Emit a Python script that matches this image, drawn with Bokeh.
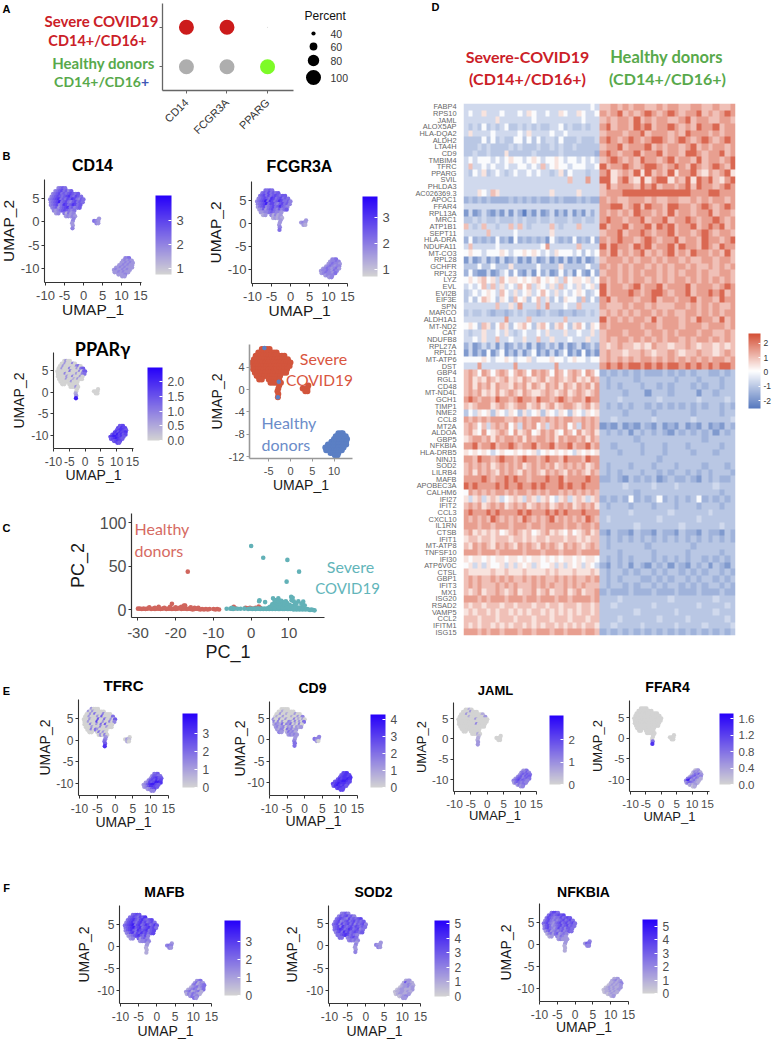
from itertools import cycle
import numpy as np
from bokeh.embed import file_html
from bokeh.resources import INLINE
from bokeh.plotting import figure
from bokeh.models import Range1d, FixedTicker, ColorBar, LinearColorMapper, ColumnDataSource, AllLabels
from bokeh.core.properties import value

# ------------------------------------------------------------------ panel A
dot_genes = ["CD14", "FCGR3A", "PPARG"]
dot_groups = ["Severe", "Severe", "Severe", "Healthy", "Healthy", "Healthy"]
dot_gene_of = ["CD14", "FCGR3A", "PPARG", "CD14", "FCGR3A", "PPARG"]
dot_percent = [100, 100, 22, 100, 100, 100]
dot_colors = ["#cc1b1b", "#cc1b1b", "#bdbdbd", "#aeaeae", "#aeaeae", "#7dfb27"]
legend_percent = [40, 60, 80, 100]

# ------------------------------------------------------------------ UMAP cloud, one entry per row
umap_y = [7.2, 6.6, 6.0, 5.4, 4.8, 4.2, 3.6, 3.0, 2.4, 1.8, 1.2,
          0.7, 0.2, -0.3, -0.8, -1.4,
          0.7, 0.2, -0.3,
          -7.8, -8.3, -8.8, -9.3, -9.8, -10.3, -10.8, -11.3, -11.7]
umap_x = [
    [-6.6, -6.0, -5.4, -4.8],
    [-7.4, -6.8, -6.2, -5.6, -5.0, -4.4, -3.8, -3.2],
    [-8.0, -7.4, -6.8, -6.2, -5.6, -5.0, -4.4, -3.8, -3.2, -2.6, -2.0, -1.4],
    [-8.4, -7.8, -7.2, -6.6, -6.0, -5.4, -4.8, -4.2, -3.6, -3.0, -2.4, -1.8, -1.2, -0.6],
    [-8.8, -8.2, -7.6, -7.0, -6.4, -5.8, -5.2, -4.6, -4.0, -3.4, -2.8, -2.2, -1.6, -1.0, -0.4, 0.0],
    [-8.6, -8.0, -7.4, -6.8, -6.2, -5.6, -5.0, -4.4, -3.8, -3.2, -2.6, -2.0, -1.4, -0.8, -0.2],
    [-8.6, -8.0, -7.4, -6.8, -6.2, -5.6, -5.0, -4.4, -3.8, -3.2, -2.6, -2.0, -1.4, -0.8],
    [-8.2, -7.6, -7.0, -6.4, -5.8, -5.2, -4.6, -4.0, -3.4, -2.8, -2.2, -1.6, -1.0],
    [-7.8, -7.2, -6.6, -6.0, -5.4, -4.8, -4.2, -3.6, -3.0, -2.4],
    [-7.2, -6.6, -5.0, -4.4, -3.8, -3.2, -2.6],
    [-4.6, -4.0, -3.4, -2.8, -2.2],
    [-2.6], [-2.8], [-3.0], [-2.8], [-2.9],
    [4.1], [2.8, 3.4, 3.9], [3.4, 3.9],
    [11.0, 11.6, 12.0],
    [10.4, 11.0, 11.6, 12.2, 12.7],
    [10.0, 10.6, 11.2, 11.8, 12.4, 13.0],
    [9.4, 10.0, 10.6, 11.2, 11.8, 12.4, 12.8],
    [8.6, 9.2, 9.8, 10.4, 11.0, 11.6, 12.2, 12.8],
    [8.0, 8.6, 9.2, 9.8, 10.4, 11.0, 11.6, 12.2],
    [8.2, 8.8, 9.4, 10.0, 10.6, 11.2, 11.8],
    [9.2, 9.8, 10.4, 11.0],
    [10.2, 10.8],
]
severe_row_count = 19
donor_strays_x = [-6.0, -2.7, -2.9]
donor_strays_y = [7.4, 1.4, -1.4]

# expression level 0-9 per cloud row
expr_cd14 = """4565 45675646 456756567656 45676567865765 4567856576875465 456795675467565 45674587568756 4563567856456 4345676545 3452534 34343
4 4 3 3 4  3 543 43  445 34343 334343 3343433 33434333 34334343 3343433 3334 33"""
expr_fcgr3a = """5565 56575656 567575676566 45676587567565 4567958756875564 456795775467564 35674567568654 3463567546456 3344565443 2342423 23232
3 3 3 4 5  3 343 32  445 34454 345443 3454344 34543453 34454354 3454435 3444 34"""
expr_pparg = """0300 00300040 003000000450 00300040003056 0000000500004056 000040000030045 00000300400030 0000300020300 0000003000 0000000 00030
0 0 2 3 9  0 000 00  667 76877 678876 7868778 68797867 78998786 6789876 6787 76"""
expr_tfrc = """3000 30300000 003050004000 00300030600005 0003000600500306 003000700300404 00040030506000 0003000400300 0040530000 0005030 03040
3 4 5 6 8  0 031 20  556 46655 367866 4676867 34767998 34689976 3468876 3467 44"""
expr_cd9 = """0000 00200000 003002000300 02003000200304 3004003000402030 404030043040305 24325043502040 3423403240323 3244053423 4325342 34343
3 3 4 5 5  4 544 30  778 67887 678878 6878898 67889987 77898887 6898786 7887 77"""
expr_jaml = """0020 00003000 000300000002 00000200000003 0000000003000000 000000000000000 00000000040000 0000000000000 0000000000 0000000 00020
1 2 2 3 3  0 000 00  335 45464 356565 4564656 35664565 45675654 3565454 3545 34"""
expr_ffar4 = """0000 00000000 000000000000 00000000000000 0000000000000000 000000000000000 00000000000000 0000000000000 0000000000 0000000 00000
0 0 0 5 8  0 000 00  123 24342 135463 2456434 45653542 48934532 3565432 2323 12"""
expr_mafb = """5676 56765768 567865786567 46786578675675 5678957856875686 567896785678675 46786587678567 4578576867567 3456786574 3463564 34454
3 3 2 2 2  3 454 43  345 35243 452345 2345345 23454235 34523452 2435432 3534 53"""
expr_sod2 = """4564 46567564 567654756567 56745675675656 5674756757465674 567486567576565 56787568756745 4675867567656 5567875654 5545675 45454
3 4 3 3 4  3 433 43  233 26332 233432 1233423 12332223 12233232 1233223 1234 33"""
expr_nfkbia = """5775 57656767 576545575676 46754545675675 5675435675675675 467534567567565 46754357564665 3563454564565 2453563454 2343543 34333
3 3 2 2 2  4 365 44  223 23423 223234 1232323 12323223 12232323 1223232 1232 23"""

# ------------------------------------------------------------------ panel C
pc_healthy_x = [-30, -29.5, -29, -28.5, -28, -27.5, -27, -26.5, -26, -25.5, -25, -24.5, -24, -23.5, -23, -22.5, -22, -21.5,
                -21, -20.5, -20, -19.5, -19, -18.5, -18, -17.5, -17, -16.5, -16, -15.5, -15, -14.5, -14, -13.5, -13, -12.5,
                -12, -11.5, -11, -10, -9.5, -9, -8.5, -27, -24.5, -23, -21.5, -20, -18.5, -17.5, -16, -14, -21, -17.8, -16.8,
                -5, -4.6, -4.2, -1.5, -1, -0.3, 0.4, 1.2, 2, 2.4, -25.5, -19, -15]
pc_healthy_y = [1, 1, 0.5, 1, 0.5, 1, 1.5, 0.5, 1, 0.5, 1, 1, 0.5, 1, 1.5, 0.5, 1, 1,
                0.5, 1, 0.5, 1, 1.5, 0.5, 1, 1, 0.5, 1, 0.5, 0, 0.5, 1, 0.5, 0, 0.5, 0,
                0.5, 0, 0.5, 0.5, 0, 0.5, 0, 2.5, 3, 2, 3, 2.5, 3, 4.5, 2.5, 2, 6.5, 4.5, 43.5,
                1, 3, 1.5, 2, 1.5, 2, 1, 2, 3.5, 2, 2, 2, 2]
pc_severe_x = [0, 3.2, 9.6, 12.7, 9.4, 2.2, 2.1, 3.7, 5.8, 6.2, 7.2, 10.6, 11, 12.5, 6.6, 6.9, 7.4, 8, 8.6, 9.2, 8.4,
               -6.5, -5.5, -5.1, -4.8, -4.4, -3.6, -2.8, -1.8, -0.8, -0.2, 0.3, 0.8, 1.2, 1.6, 2, 2.4, 2.8, 3.2, 3.6, 4, 4.4,
               4.8, 5.2, 5.6, 6, 6.4, 6.8, 7.2, 7.6, 8, 8.4, 8.8, 9.2, 9.6, 10, 10.4, 10.8, 11.2, 11.6, 12, 12.4, 12.8,
               13.2, 13.6, 14, 14.4, 14.8, 15.2, 15.6, 16, 16.4, 16.8,
               4.6, 5, 5.4, 5.8, 6.2, 6.6, 7, 7.4, 7.8, 8.2, 8.6, 9, 9.4, 9.8, 10.2, 10.6, 11, 11.4, 11.8, 12.2, 12.6, 13, 13.4, 13.8, 14.2,
               5.6, 6, 6.4, 6.8, 7.2, 7.6, 8, 8.4, 8.8, 9.2, 9.6, 10, 10.4, 10.8, 11.2, 11.6, 12,
               6.2, 6.6, 7, 7.4, 7.8, 8.2, 8.6, 9, 9.4, 9.8, 10.2,
               5.2, 5.7, 6.3, 6.8, 7.3, 7.8, 8.3, 8.8, 9.3, 9.8, 10.3, 10.8, 11.3, 11.8, 12.3, 12.8, 13.3, 13.8,
               5.9, 6.5, 7.1, 7.7, 8.3, 8.9, 9.5, 10.1, 10.7, 11.3, 6.4, 7.2, 8, 8.8, 9.6, 10.4]
pc_severe_y = [73, 59.5, 57, 43.5, 32, 10.5, 9.5, 8.5, 13, 11, 13, 14.5, 13.5, 9.5, 9, 7, 8, 9.5, 8, 9.5, 7,
               0.8, 1, 2, 0.5, 1.2, 0.8, 0.8, 1, 0.5, 1, 0.5, 1, 0.5, 1, 1, 0.5, 1, 0.5, 1, 0.5, 1,
               0.5, 1, 0.5, 1, 0.5, 1, 0.5, 0.5, 1, 0.5, 0.5, 1, 0.5, 0.5, 0.5, 1, 0, 0.5, 0, 0.5, 0,
               0.5, 0, 0.5, 0, 0.5, 0, -0.5, 0, -0.5, -1,
               2, 3, 2.5, 3, 3.5, 2.5, 3.5, 3, 4, 2.5, 3.5, 3, 2.5, 3, 2, 3, 2.5, 2, 2.5, 1.5, 2, 1.5, 1.5,
               5, 4.5, 6, 5, 6.5, 5.5, 5, 6, 5, 6.5, 5, 4.5, 5, 4, 4.5, 3.5, 4,
               7.5, 6.5, 8, 7, 7.5, 6.5, 8, 7, 6, 7, 5.5,
               1.5, 4, 2, 4.5, 2, 5, 2.5, 5.5, 2, 4.5, 2, 3.5, 1.5, 3, 1, 2.5, 1, 2,
               6.5, 9, 6, 8.5, 9.5, 6.5, 8.5, 6, 7.5, 5.5, 10.5, 9.5, 10.5, 9.5, 10, 8.5]

# ------------------------------------------------------------------ panel D
heat_levels = [-2.4, -1.9, -1.4, -1.0, -0.65, 0.0, 0.5, 1.0, 1.5, 2.3]
heat_genes = ["FABP4", "RPS10", "JAML", "ALOX5AP", "HLA-DQA2", "ALDH2", "LTA4H", "CD9", "TMBIM4", "TFRC", "PPARG", "SVIL",
              "PHLDA3", "AC026369.3", "APOC1", "FFAR4", "RPL13A", "MRC1", "ATP1B1", "SEPT11", "HLA-DRA", "NDUFA11", "MT-CO3",
              "RPL28", "GCHFR", "RPL23", "LYZ", "EVL", "EVI2B", "EIF3E", "SPN", "MARCO", "ALDH1A1", "MT-ND2", "CAT", "NDUFB8",
              "RPL27A", "RPL21", "MT-ATP6", "DST", "GBP4", "RGL1", "CD48", "MT-ND4L", "GCH1", "TIMP1", "NME2", "CCL8", "MT2A",
              "ALDOA", "GBP5", "NFKBIA", "HLA-DRB5", "NINJ1", "SOD2", "LILRB4", "MAFB", "APOBEC3A", "CALHM6", "IFI27", "IFIT2",
              "CCL3", "CXCL10", "IL1RN", "CTSB", "IFIT1", "MT-ATP8", "TNFSF10", "IFI30", "ATP6V0C", "CTSL", "GBP1", "IFIT3",
              "MX1", "ISG20", "RSAD2", "VAMP5", "CCL2", "IFITM1", "ISG15"]
heat_rows = """
444444444444444444444444444454|778787887787887788778778
454464445444546544544654465445|878978789878987889787898
444444464444444544444444445444|787887978788778978877887
434353434533434343344534334344|897887989788987879889788
464444544444546444454454444444|788878897888787988878788
333353534335535353443533343334|898789878998789878987898
333434333343433343343433433333|788978889787887897878878
334334333633333433333433333332|898788978897887998788978
454555454565545654556545545454|789878798878978879788789
474454544544554547456554555445|978898789987898798789879
435463454345445454434635444344|896787969787968897687896
444444444444444444444447444844|996897696899687969897689
444444444444444444444444444444|797888798978878979887898
444654764444444444464444464444|788899999999999988899888
232323222232323232232322232322|878778887877887787878878
444444444444444444444444444444|889978979887998878987898
141242131414203141241314131424|878787988787978878897887
334343343334343343343334334334|898878897889788987889878
743474434474743444474344474444|978897889798978897898978
444447444445444444464444444444|788978898788978878987887
252323252315232323153232523252|878988789878897887988789
474444454444444445844444474444|979887989788979887987988
565545556545565654546555453545|879787897878978798878797
141241314124131412413141314124|788878788787887877887887
333533533363333353333633333533|878787887878788787787878
252114124525214152412524152152|788787878878787887877887
565675647566565675656475665645|878787887878788787878787
454574746454757465464745464564|978878978897888978887898
345456547546456457546454565345|978889878998788978898978
353576536537563574635365537353|897888788978878897887988
444444474464844474844454474444|877787887877788787878778
343343233234343323433233233434|787878788787877887878788
444444444844447444444474444444|978787887978887879887978
565376357635675367536753675365|878888878878887888788878
434464454643454454644464454464|788878887887878887887787
445464474454464474464445444644|787887878787887878878787
241242414124241412424141241242|767877676877677876776767
141315135131413513141351315131|787767787677876778776787
555565455654556455565545655455|787878788787878787878878
444844444448444444448444444444|898989989898998989898998
787587578757875878758757875875|232323232223232323322323
786768767867687678678767867687|323333233333323332333233
786878687768786876878687687868|323233323323233323233233
787867686787687667876786787678|333323331333233331332333
898788798878988798878987887988|333433333343333334333343
767888678767886786786788767867|323232332323232323233232
354656365465364563654653654656|333323333233333323333233
878787888778787887878788778787|334333333433333343333334
787574787857487857478785748787|121312132131213121312132
786585678758678568786587586786|323231323232132323231323
678878687887868788786878878687|333333233333333333233333
889788978898788978897889788978|332333323332333233333233
656565456556565645656565465656|333233323332333323332333
887988789887898878988798887988|333333333323333333333333
787878678787867878786787878678|323332333233323333233323
786878768787687876878768787687|323233323323233232323332
888898788989887888988978888988|223213232312322321323223
989888898988988989888989889888|333343333433343333334333
587878788787887878788787878787|333333233333333333333233
646746764567647646754674676467|232325232352323235232323
787867878678786787867878678786|323332333233323332333233
898889898888989888989898889888|333334333333433333343333
878787987878798787897878787987|343333333343333334333333
888788788878887887888878878878|333333433333334333333433
786767675678767567867657567867|213221322132213221322132
677677677767767677677767767677|323232323232323232323232
768787687876878768787687876787|323333332333333323333333
888788878888878887888788878888|333233333233333233333233
656656566566565665656566565665|323232333232323233232323
564646556464656465564646564654|213231321323132132313213
766666766766676666767666766676|323323233232332323233232
787877878787787878778787877878|323233322323233232332323
787877787878777878787787878777|323323233232332323233232
767867787678677867867786786778|232223222322232223222322
888787888788878878887887888878|333433333333433333334333
767767776776777677677677767767|334333333433333334333343
676776767767676776767676767767|333333433333343333334333
777677767776777677767776777677|333433333343333433333343
767677676767767676776767676776|334333343333343333433334
888787887888788788878878887887|232323232323232323232323
""".split()

umap_x_ticks = [-10, -5, 0, 5, 10, 15]
umap_y_ticks = [-10, -5, 0, 5]

# ------------------------------------------------------------------ layout (page pixels)
SANS = "Liberation Sans"
SOFT = "Lato"
LOW_COL, HIGH_COL = (211, 211, 211), (38, 0, 250)
feature_palette = ["#%02x%02x%02x" % tuple(int(round(a + (b - a) * i / 255)) for a, b in zip(LOW_COL, HIGH_COL)) for i in range(256)]
heat_stops = [(0.0, (85, 120, 190)), (0.5, (255, 255, 255)), (1.0, (212, 78, 52))]
heat_palette = []
for i in range(256):
    t = i / 255
    (a, ca), (b, cb_) = (heat_stops[0], heat_stops[1]) if t < 0.5 else (heat_stops[1], heat_stops[2])
    heat_palette.append("#%02x%02x%02x" % tuple(int(round(u + (v - u) * (t - a) / (b - a))) for u, v in zip(ca, cb_)))

FEATURES = [
    dict(title="CD14", expr=expr_cd14, frame=(44, 141, 179, 282), xt=(45, 140), yt=(198, 268), cb=(155, 171, 195, 274),
         cv=[3, 2, 1], cvpx=(220, 268), tf=13, lf=15.5, tit=16, titc=165, xlab=312, ylab=8, titx=92),
    dict(title="FCGR3A", expr=expr_fcgr3a, frame=(251, 347, 181, 283), xt=(252, 347), yt=(200, 269), cb=(362, 377, 196, 276),
         cv=[3, 2, 1], cvpx=(217, 269), tf=13, lf=15.5, tit=16, titc=166, xlab=313, ylab=215, titx=299),
    dict(title="PPAR\u03b3", expr=expr_pparg, frame=(53, 133, 352, 448), xt=(53, 132), yt=(370, 435), cb=(147, 162, 367, 440),
         cv=[2.0, 1.5, 1.0, 0.5, 0.0], cvpx=(381, 440), tf=12, lf=14, tit=18, titc=348, xlab=476, ylab=19, titx=102, cfmt="%.1f", tfont=SOFT),
    dict(title="TFRC", expr=expr_tfrc, frame=(78, 168, 699, 795), xt=(79, 168), yt=(718, 783), cb=(182, 197, 713, 787),
         cv=[3, 2, 1, 0], cvpx=(733, 787), tf=12, lf=14, tit=15, titc=685, xlab=823, ylab=45, titx=123),
    dict(title="CD9", expr=expr_cd9, frame=(269, 357, 701, 795), xt=(269, 357), yt=(718, 782), cb=(370, 385, 714, 787),
         cv=[4, 3, 2, 1, 0], cvpx=(719, 787), tf=12, lf=14, tit=14, titc=687, xlab=822, ylab=240, titx=312),
    dict(title="JAML", expr=expr_jaml, frame=(453, 536, 702, 791), xt=(454, 536), yt=(718, 779), cb=(549, 563, 715, 784),
         cv=[2, 1, 0], cvpx=(739, 784), tf=11.5, lf=13, tit=13, titc=690, xlab=817, ylab=422, titx=495),
    dict(title="FFAR4", expr=expr_ffar4, frame=(629, 709, 700, 791), xt=(630, 707), yt=(717, 779), cb=(719, 733, 713, 784),
         cv=[1.6, 1.2, 0.8, 0.4, 0.0], cvpx=(718, 784), tf=11.5, lf=13, tit=14, titc=686, xlab=818, ylab=598, titx=667, cfmt="%.1f"),
    dict(title="MAFB", expr=expr_mafb, frame=(119, 211, 905, 1003), xt=(120, 211), yt=(924, 990), cb=(224, 240, 920, 995),
         cv=[3, 2, 1, 0], cvpx=(941, 995), tf=12, lf=14, tit=14, titc=891, xlab=1032, ylab=84, titx=164),
    dict(title="SOD2", expr=expr_sod2, frame=(328, 420, 905, 1003), xt=(329, 420), yt=(923, 990), cb=(434, 449, 920, 996),
         cv=[5, 4, 3, 2, 1, 0], cvpx=(923, 996), tf=12, lf=14, tit=14, titc=891, xlab=1032, ylab=292, titx=373),
    dict(title="NFKBIA", expr=expr_nfkbia, frame=(539, 628, 903, 1001), xt=(539, 628), yt=(922, 988), cb=(642, 657, 919, 993),
         cv=[5, 4, 3, 2, 1, 0], cvpx=(926, 993), tf=12, lf=14, tit=14, titc=891, xlab=1028, ylab=506, titx=583),
]


def base_figure(frame, x_range, y_range, L=60, T=36, B=38, R=6):
    x0, x1, y0, y1 = frame
    p = figure(width=int(round(L + (x1 - x0) + R)), height=int(round(T + (y1 - y0) + B)), x_range=x_range, y_range=y_range,
               toolbar_location=None, output_backend="svg",
               min_border_left=L, min_border_right=R, min_border_top=T, min_border_bottom=B,
               background_fill_color=None, border_fill_color=None, outline_line_color=None,
               styles={"position": "absolute", "left": f"{x0 - L}px", "top": f"{y0 - T}px"})
    p.grid.visible = False
    return p


def style_axis(ax, ticks, tf, lf, label, dist, is_y, line="#333333", lw=1.1, std=None):
    if std is None:
        std = 2 if is_y else 5
    ax.ticker = FixedTicker(ticks=ticks)
    ax.minor_tick_line_color = None
    ax.major_tick_in = 0
    ax.major_tick_out = 3
    ax.axis_line_color = line
    ax.axis_line_width = lw
    ax.major_tick_line_color = line
    ax.major_label_standoff = std
    ax.major_label_text_font = SANS
    ax.major_label_text_font_size = f"{tf}px"
    ax.major_label_text_color = "#4d4d4d"
    ax.major_label_overrides = {t: str(t) for t in ticks}
    ax.axis_label = label
    ax.axis_label_text_font = SANS
    ax.axis_label_text_font_style = "normal"
    ax.axis_label_text_font_size = f"{lf}px"
    ax.axis_label_text_color = "#1a1a1a"
    occupied = 3 + std + (tf * 1.6 if is_y else tf * 1.15)
    ax.axis_label_standoff = int(round(dist - occupied - lf * 0.6))


def expand(expr):
    groups = expr.split()
    xs, ys, ds = [], [], []
    for row_x, y, g in zip(umap_x, umap_y, groups):
        for x, d in zip(row_x, cycle(g)):
            xs.append(x); ys.append(y); ds.append(int(d))
    return xs, ys, ds


figs = []
for c in FEATURES:
    x0, x1, y0, y1 = c["frame"]
    sx = (c["xt"][1] - c["xt"][0]) / 25.0
    sy = (c["yt"][1] - c["yt"][0]) / 15.0
    xr = Range1d(-10 + (x0 - c["xt"][0]) / sx, -10 + (x1 - c["xt"][0]) / sx)
    yr = Range1d(5 - (y1 - c["yt"][0]) / sy, 5 - (y0 - c["yt"][0]) / sy)
    cx0, cx1, cy0, cy1 = c["cb"]
    per = (c["cvpx"][1] - c["cvpx"][0]) / (c["cv"][0] - c["cv"][-1])
    hi = c["cv"][0] + (c["cvpx"][0] - cy0) / per
    lo = c["cv"][-1] - (cy1 - c["cvpx"][1]) / per
    mapper = LinearColorMapper(palette=feature_palette, low=lo, high=hi)
    p = base_figure(c["frame"], xr, yr, R=int(cx1 + 30 - x1))
    xs, ys, ds = expand(c["expr"])
    vals = [lo + (hi - lo) * d / 10.5 for d in ds]
    src = ColumnDataSource(dict(x=xs, y=ys, v=vals))
    p.scatter("x", "y", source=src, size=4.3, fill_color={"field": "v", "transform": mapper}, line_color=None)
    style_axis(p.xaxis[0], umap_x_ticks, c["tf"], c["lf"], "UMAP_1", c["xlab"] - y1, False)
    style_axis(p.yaxis[0], umap_y_ticks, c["tf"], c["lf"], "UMAP_2", x0 - c["ylab"], True)
    fmt = c.get("cfmt", "%d")
    bar = ColorBar(color_mapper=mapper, ticker=FixedTicker(ticks=c["cv"]), width=int(cx1 - cx0), height=int(cy1 - cy0),
                   location=(cx0 - x0, y1 - cy1), padding=0, margin=0, bar_line_color=None, border_line_color=None,
                   background_fill_color=None, major_tick_line_color="white", major_tick_in=3, major_tick_out=0,
                   minor_tick_line_color=None, label_standoff=5, major_label_text_font=SANS,
                   major_label_text_font_size=f"{c['tf']}px", major_label_text_color="#4d4d4d",
                   major_label_policy=AllLabels(),
                   major_label_overrides={v: fmt % v for v in c["cv"]})
    p.add_layout(bar, "center")
    figs.append(p)

# --- panel A: dot plot
frame = (162, 293, 3, 93)
pa = base_figure(frame, Range1d(-0.59, 2.64), Range1d(-0.6, 1.6), L=30, T=3, B=50, R=6)
dot_x = [dot_genes.index(g) for g in dot_gene_of]
dot_y = [1 if g == "Severe" else 0 for g in dot_groups]
pa.scatter(dot_x, dot_y, size=[0.18 * v - 3 for v in dot_percent], fill_color=dot_colors, line_color=None)
ax = pa.xaxis[0]
style_axis(ax, [0, 1, 2], 11, 10, None, 0, False, line="#666666", lw=1.3)
ax.axis_label = None
ax.major_label_overrides = dict(enumerate(dot_genes))
ax.major_label_orientation = 0.785
ax.major_label_text_color = "#333333"
ax.major_label_standoff = 7
ay = pa.yaxis[0]
style_axis(ay, [0, 1], 1, 10, None, 0, True, line="#666666", lw=1.3)
ay.axis_label = None
ay.major_label_overrides = {0: "", 1: ""}
figs.append(pa)

# --- Severe / healthy UMAP
frame = (249, 352, 344, 458)
SC_X = 4.35
SC_Y = 5.62
xr = Range1d((249 - 290) / SC_X, (352 - 290) / SC_X)
yr = Range1d(0 - (458 - 389) / SC_Y, 0 + (389 - 344) / SC_Y)
pu = base_figure(frame, xr, yr, R=6)
for idx, color in ((range(severe_row_count), "#d2553c"), (range(severe_row_count, len(umap_y)), "#5b7fc4")):
    sxs = [x for i in idx for x in umap_x[i]]
    sys_ = [umap_y[i] for i in idx for _ in umap_x[i]]
    pu.scatter(sxs, sys_, size=6, fill_color=color, line_color=None)
pu.scatter(donor_strays_x, donor_strays_y, size=4.5, fill_color="#5b7fc4", line_color=None)
style_axis(pu.xaxis[0], [-5, 0, 5, 10], 11, 14, "UMAP_1", 486 - 458, False, line="#999999", lw=1.6)
style_axis(pu.yaxis[0], [-12, -8, -4, 0, 4], 11, 14, "UMAP_2", 249 - 217, True, line="#999999", lw=1.6)
figs.append(pu)

# --- panel C: PCA
frame = (124, 324, 513, 617)
SC_X = 3.91
SC_Y = 0.87
xr = Range1d((124 - 248) / SC_X, (324 - 248) / SC_X)
yr = Range1d(-(617 - 609) / SC_Y, (609 - 513) / SC_Y)
pc = base_figure(frame, xr, yr, R=6, L=60, B=50)
pc.scatter(pc_healthy_x, pc_healthy_y, size=4.6, fill_color="#d0655d", line_color=None)
pc.scatter(pc_severe_x, pc_severe_y, size=4.6, fill_color="#62b1b7", line_color=None)
style_axis(pc.xaxis[0], [-30, -20, -10, 0, 10], 15, 18, "PC_1", 656 - 617, False, lw=1.2, std=7)
style_axis(pc.yaxis[0], [0, 50, 100], 16, 18, "PC_2", 124 - 74, True, lw=1.2)
figs.append(pc)

# --- panel D: heatmap
frame = (462, 735, 103, 635)
ph = base_figure(frame, Range1d(0, 2), Range1d(0, len(heat_genes)), L=50, T=3, B=4, R=37)
W = 60
arr = np.zeros((len(heat_rows), 2 * W))
for r, row in enumerate(heat_rows):
    left, right = row.split("|")
    for j in range(W):
        arr[len(heat_rows) - 1 - r, j] = heat_levels[int(left[j * len(left) // W])]
        arr[len(heat_rows) - 1 - r, W + j] = heat_levels[int(right[j * len(right) // W])]
heat_map = LinearColorMapper(palette=heat_palette, low=-2.56, high=2.7)
ph.image(image=[arr], x=0, y=0, dw=2, dh=len(heat_genes), color_mapper=heat_map)
ph.xaxis.visible = False
gene_ticks = [len(heat_genes) - i - 0.5 for i in range(len(heat_genes))]
ay = ph.yaxis[0]
ay.ticker = FixedTicker(ticks=gene_ticks)
ay.major_label_overrides = dict(zip(gene_ticks, heat_genes))
ay.axis_line_color = None
ay.major_tick_line_color = None
ay.minor_tick_line_color = None
ay.major_label_standoff = 1
ay.major_label_text_font = SANS
ay.major_label_text_font_size = "7.4px"
ay.major_label_text_color = "#666666"
heat_bar = ColorBar(color_mapper=heat_map, ticker=FixedTicker(ticks=[2, 1, 0, -1, -2]), width=12, height=75,
                    location=(747 - 462, 635 - 408), padding=0, margin=0, bar_line_color=None, border_line_color=None,
                    background_fill_color=None, major_tick_line_color="white", major_tick_in=2, major_tick_out=0,
                    minor_tick_line_color=None, label_standoff=3, major_label_text_font=SANS,
                    major_label_text_font_size="8.5px", major_label_text_color="#333333",
                    major_label_policy=AllLabels(),
                    major_label_overrides={2: "2", 1: "1", 0: "0", -1: "-1", -2: "-2"})
ph.add_layout(heat_bar, "center")
figs.append(ph)

# --- free text on a page-sized layer
ov = figure(width=772, height=1041, x_range=Range1d(0, 772), y_range=Range1d(1041, 0), toolbar_location=None, output_backend="svg",
            min_border=0, x_axis_location=None, y_axis_location=None, background_fill_color=None, border_fill_color=None,
            outline_line_color=None, styles={"position": "absolute", "left": "0px", "top": "0px"})
ov.grid.visible = False


def put(x, y, text, color="black", size=15, bold=False, font=SOFT, align="center"):
    ov.text([x], [y], text=[text], text_color=color, text_font=value(font), text_font_size=f"{size}px",
            text_font_style="bold" if bold else "normal", text_align=align, text_baseline="middle")


for letter, x, y in [("A", 6, 8), ("B", 6, 155), ("C", 6, 527), ("D", 435, 6), ("E", 6, 690), ("F", 6, 887)]:
    put(x, y, letter, size=11, bold=True, font=SANS)
for c in FEATURES:
    put(c["titx"], c["titc"], c["title"], "black", c["tit"], True, font=c.get("tfont", SANS))
RED, GREEN, BLUE = "#cb2027", "#58a94b", "#3f57b5"
put(101, 20, "Severe COVID19", RED, 15, True)
put(97, 40, "CD14+/CD16+", RED, 14.5, True)
put(103, 62, "Healthy donors", GREEN, 15, True)
put(97, 81, "CD14+/CD16", GREEN, 14, True)
put(140.5, 81, "+", BLUE, 14, True, align="left")
put(304, 15, "Percent", "#111111", 12, font=SANS, align="left")
legend_y = [33, 46, 60, 77]
ov.scatter([313] * 4, legend_y, size=[0.18 * v - 3 for v in legend_percent], fill_color="black", line_color=None)
for v, y in zip(legend_percent, legend_y):
    put(330, y, str(v), "#333333", 10.5, font=SANS, align="left")
put(323, 358, "Severe", "#d9563f", 16)
put(319, 379, "COVID19", "#d9563f", 15.5)
put(261, 422, "Healthy", "#6b8cc9", 16, align="left")
put(261, 444, "donors", "#6b8cc9", 16, align="left")
put(134, 528, "Healthy", "#d66a62", 16, align="left")
put(134, 550, "donors", "#d66a62", 16, align="left")
put(350, 566, "Severe", "#62b5ba", 16)
put(347, 587, "COVID19", "#62b5ba", 15)
put(527, 56, "Severe-COVID19", RED, 16, True)
put(527, 78, "(CD14+/CD16+)", RED, 16, True)
put(666, 56, "Healthy donors", GREEN, 16.5, True)
put(667, 78, "(CD14+/CD16+)", GREEN, 16, True)
figs.append(ov)

open("out.html", "w").write(file_html(figs, INLINE))
